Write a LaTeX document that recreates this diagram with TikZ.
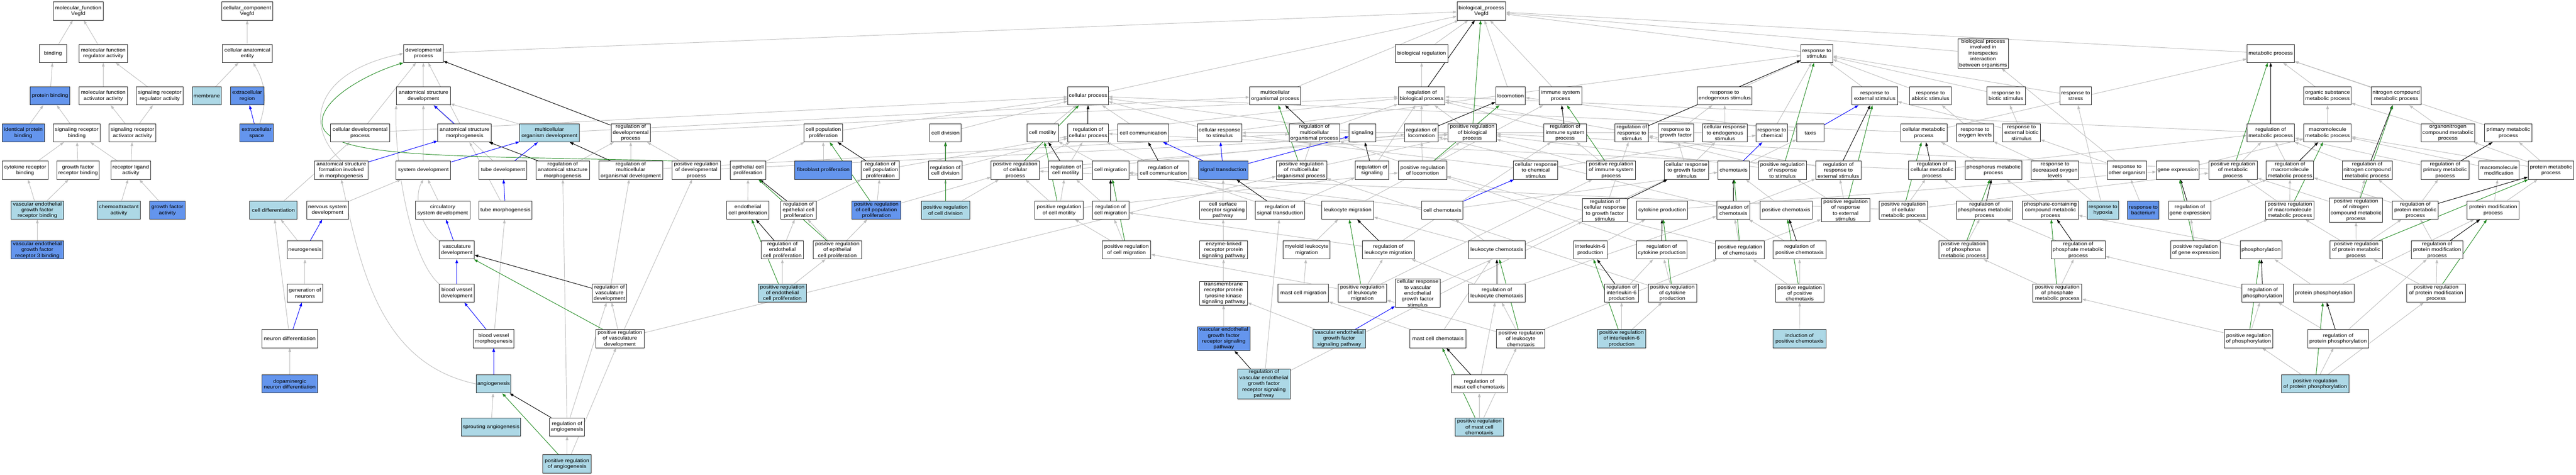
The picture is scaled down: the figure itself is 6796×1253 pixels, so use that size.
\documentclass[tikz,border=0pt]{standalone}
\usepackage{fontspec}
\setmainfont{Liberation Sans}[FakeStretch=1.12]
\usetikzlibrary{arrows.meta}
\pgfdeclarelayer{bg}
\pgfsetlayers{bg,main}
\definecolor{lbc}{HTML}{ADD8E6}
\definecolor{cbc}{HTML}{6495ED}
\definecolor{egc}{HTML}{BEBEBE}
\definecolor{fgc}{HTML}{228B22}
\tikzset{
 gobox/.style={draw=black!85, line width=1.3pt, fill=white, rectangle, align=center,
   minimum height=48pt, inner sep=2pt, font=\fontsize{13}{15.5}\selectfont},
 wbx/.style={}, lbx/.style={fill=lbc}, cbx/.style={fill=cbc},
 isa/.style={draw=egc, line width=1.3pt, -{Triangle[length=10pt,width=7pt]}},
 rg/.style={draw=black, line width=1.3pt, -{Triangle[length=10pt,width=7pt]}},
 po/.style={draw=blue, line width=1.3pt, -{Triangle[length=10pt,width=7pt]}},
 pr/.style={draw=fgc, line width=1.3pt, -{Triangle[length=10pt,width=7pt]}}
}
\newcommand\nd[6]{%
 \pgfmathsetmacro\ndx{(#2+#3)/2}%
 \pgfmathsetmacro\ndw{#3-#2}%
 \pgfmathsetmacro\ndy{{29,141,253,350.5,449,554.5,659.5,773.5,893.5,1013,1126.5,1224}[#4]}%
 \node[gobox,#5,minimum width=\ndw pt] (#1) at (\ndx,\ndy) {#6};}
\begin{document}
\begin{tikzpicture}[x=1pt,y=-1pt]
\useasboundingbox (0,0) rectangle (6796,1253);
% row 0
\nd{mfroot}{141}{272}{0}{wbx}{molecular\_function\\Vegfd}
\nd{ccroot}{585}{719}{0}{wbx}{cellular\_component\\Vegfd}
\nd{bproot}{3844}{3972}{0}{wbx}{biological\_process\\Vegfd}
% row 1
\nd{binding}{104}{176}{1}{wbx}{binding}
\nd{mfreg}{208}{337}{1}{wbx}{molecular function\\regulator activity}
\nd{cae}{587}{718}{1}{wbx}{cellular anatomical\\entity}
\nd{devp}{1065}{1169}{1}{wbx}{developmental\\process}
\nd{bioreg}{3681}{3820}{1}{wbx}{biological regulation}
\nd{rstim}{4751}{4835}{1}{wbx}{response to\\stimulus}
\nd{inter}{5165}{5299}{1}{wbx}{biological process\\involved in\\interspecies\\interaction\\between organisms}
\nd{metab}{5928}{6053}{1}{wbx}{metabolic process}
% row 2
\nd{protbind}{80}{184}{2}{cbx}{protein binding}
\nd{mfact}{208}{337}{2}{wbx}{molecular function\\activator activity}
\nd{srra}{360}{483}{2}{wbx}{signaling receptor\\regulator activity}
\nd{membrane}{507}{584}{2}{lbx}{membrane}
\nd{exreg}{608}{696}{2}{cbx}{extracellular\\region}
\nd{asdev}{1046}{1188}{2}{wbx}{anatomical structure\\development}
\nd{cellp}{2817}{2924}{2}{wbx}{cellular process}
\nd{mop}{3297}{3431}{2}{wbx}{multicellular\\organismal process}
\nd{rbp}{3689}{3812}{2}{wbx}{regulation of\\biological process}
\nd{locom}{3946}{4024}{2}{wbx}{locomotion}
\nd{isp}{4061}{4173}{2}{wbx}{immune system\\process}
\nd{rendo}{4478}{4622}{2}{wbx}{response to\\endogenous stimulus}
\nd{rext}{4886}{5006}{2}{wbx}{response to\\external stimulus}
\nd{rabio}{5038}{5148}{2}{wbx}{response to\\abiotic stimulus}
\nd{rbio}{5241}{5343}{2}{wbx}{response to\\biotic stimulus}
\nd{rstress}{5435}{5517}{2}{wbx}{response to\\stress}
\nd{osmp}{6078}{6203}{2}{wbx}{organic substance\\metabolic process}
\nd{ncmp}{6256}{6387}{2}{wbx}{nitrogen compound\\metabolic process}
% row 3
\nd{ipb}{6}{117}{3}{cbx}{identical protein\\binding}
\nd{srb}{141}{264}{3}{wbx}{signaling receptor\\binding}
\nd{sraa}{288}{411}{3}{wbx}{signaling receptor\\activator activity}
\nd{exsp}{633}{721}{3}{cbx}{extracellular\\space}
\nd{cdp}{872}{1028}{3}{wbx}{cellular developmental\\process}
\nd{asm}{1155}{1296}{3}{wbx}{anatomical structure\\morphogenesis}
\nd{mod}{1371}{1528}{3}{lbx}{multicellular\\organism development}
\nd{rdp}{1612}{1716}{3}{wbx}{regulation of\\developmental\\process}
\nd{cpp}{2121}{2223}{3}{wbx}{cell population\\proliferation}
\nd{celldiv}{2453}{2536}{3}{wbx}{cell division}
\nd{cmot}{2709}{2792}{3}{wbx}{cell motility}
\nd{rcp}{2817}{2924}{3}{wbx}{regulation of\\cellular process}
\nd{ccom}{2949}{3083}{3}{wbx}{cell communication}
\nd{crs}{3159}{3276}{3}{wbx}{cellular response\\to stimulus}
\nd{rmop}{3401}{3534}{3}{wbx}{regulation of\\multicellular\\organismal process}
\nd{signaling}{3559}{3630}{3}{wbx}{signaling}
\nd{rloc}{3706}{3794}{3}{wbx}{regulation of\\locomotion}
\nd{prbp}{3820}{3948}{3}{wbx}{positive regulation\\of biological\\process}
\nd{risp}{4073}{4185}{3}{wbx}{regulation of\\immune system\\process}
\nd{rrs}{4261}{4349}{3}{wbx}{regulation of\\response to\\stimulus}
\nd{rgf}{4374}{4468}{3}{wbx}{response to\\growth factor}
\nd{cres}{4492}{4609}{3}{wbx}{cellular response\\to endogenous\\stimulus}
\nd{rchem}{4633}{4716}{3}{wbx}{response to\\chemical}
\nd{taxis}{4740}{4812}{3}{wbx}{taxis}
\nd{cmp}{5014}{5137}{3}{wbx}{cellular metabolic\\process}
\nd{rox}{5162}{5259}{3}{wbx}{response to\\oxygen levels}
\nd{rebs}{5283}{5383}{3}{wbx}{response to\\external biotic\\stimulus}
\nd{rmp}{5928}{6053}{3}{wbx}{regulation of\\metabolic process}
\nd{mmp}{6078}{6203}{3}{wbx}{macromolecule\\metabolic process}
\nd{oncmp}{6387}{6529}{3}{wbx}{organonitrogen\\compound metabolic\\process}
\nd{pmp}{6555}{6680}{3}{wbx}{primary metabolic\\process}
% row 4
\nd{crb}{6.5}{126.5}{4}{wbx}{cytokine receptor\\binding}
\nd{gfrb}{150}{262}{4}{wbx}{growth factor\\receptor binding}
\nd{rla}{293}{397}{4}{wbx}{receptor ligand\\activity}
\nd{asf}{830}{971}{4}{wbx}{anatomical structure\\formation involved\\in morphogenesis}
\nd{sysdev}{1045}{1189}{4}{wbx}{system development}
\nd{tubedev}{1264}{1390}{4}{wbx}{tube development}
\nd{rasm}{1414}{1555}{4}{wbx}{regulation of\\anatomical structure\\morphogenesis}
\nd{rmod}{1580}{1748}{4}{wbx}{regulation of\\multicellular\\organismal development}
\nd{prdp}{1773}{1901}{4}{wbx}{positive regulation\\of developmental\\process}
\nd{epp}{1926}{2021}{4}{wbx}{epithelial cell\\proliferation}
\nd{fibp}{2097}{2247}{4}{cbx}{fibroblast proliferation}
\nd{rcpp}{2272}{2373}{4}{wbx}{regulation of\\cell population\\proliferation}
\nd{rcdiv}{2450}{2538}{4}{wbx}{regulation of\\cell division}
\nd{prcp}{2615}{2742}{4}{wbx}{positive regulation\\of cellular\\process}
\nd{rcm}{2767}{2856}{4}{wbx}{regulation of\\cell motility}
\nd{cmig}{2882}{2978}{4}{wbx}{cell migration}
\nd{rcc}{3002}{3136}{4}{wbx}{regulation of\\cell communication}
\nd{sigtr}{3162}{3292}{4}{cbx}{signal transduction}
\nd{prmop}{3367}{3500}{4}{wbx}{positive regulation\\of multicellular\\organismal process}
\nd{rsig}{3575}{3664}{4}{wbx}{regulation of\\signaling}
\nd{prloc}{3689}{3817}{4}{wbx}{positive regulation\\of locomotion}
\nd{crcs}{3993}{4110}{4}{wbx}{cellular response\\to chemical\\stimulus}
\nd{prisp}{4186}{4315}{4}{wbx}{positive regulation\\of immune system\\process}
\nd{crgf}{4391}{4508}{4}{wbx}{cellular response\\to growth factor\\stimulus}
\nd{chemotaxis}{4532}{4615}{4}{wbx}{chemotaxis}
\nd{prrs}{4639}{4766}{4}{wbx}{positive regulation\\of response\\to stimulus}
\nd{rres}{4790}{4910}{4}{wbx}{regulation of\\response to\\external stimulus}
\nd{rcmp}{5035}{5159}{4}{wbx}{regulation of\\cellular metabolic\\process}
\nd{phmp}{5184}{5334}{4}{wbx}{phosphorus metabolic\\process}
\nd{rdox}{5359}{5484}{4}{wbx}{response to\\decreased oxygen\\levels}
\nd{roo}{5560}{5663}{4}{wbx}{response to\\other organism}
\nd{geneexp}{5689}{5801}{4}{wbx}{gene expression}
\nd{prmp}{5827}{5955}{4}{wbx}{positive regulation\\of metabolic\\process}
\nd{rmmp}{5979}{6104}{4}{wbx}{regulation of\\macromolecule\\metabolic process}
\nd{rncmp}{6179}{6311}{4}{wbx}{regulation of\\nitrogen compound\\metabolic process}
\nd{rpmp}{6387}{6514}{4}{wbx}{regulation of\\primary metabolic\\process}
\nd{macmod}{6539}{6646}{4}{wbx}{macromolecule\\modification}
\nd{protmp}{6670}{6790}{4}{wbx}{protein metabolic\\process}
% row 5
\nd{vegfrb}{29}{168}{5}{lbx}{vascular endothelial\\growth factor\\receptor binding}
\nd{chemoact}{256}{371}{5}{lbx}{chemoattractant\\activity}
\nd{gfa}{395}{488}{5}{cbx}{growth factor\\activity}
\nd{celldiff}{659}{784}{5}{lbx}{cell differentiation}
\nd{nsd}{809}{919}{5}{wbx}{nervous system\\development}
\nd{csd}{1096}{1240}{5}{wbx}{circulatory\\system development}
\nd{tubemorph}{1264}{1403}{5}{wbx}{tube morphogenesis}
\nd{ecp}{1917}{2029}{5}{wbx}{endothelial\\cell proliferation}
\nd{repp}{2060}{2153}{5}{wbx}{regulation of\\epithelial cell\\proliferation}
\nd{prcpp}{2248}{2376}{5}{cbx}{positive regulation\\of cell population\\proliferation}
\nd{prcdiv}{2431}{2558}{5}{lbx}{positive regulation\\of cell division}
\nd{prcm}{2730}{2858}{5}{wbx}{positive regulation\\of cell motility}
\nd{rcmig}{2882}{2978}{5}{wbx}{regulation of\\cell migration}
\nd{csrsp}{3165}{3288}{5}{wbx}{cell surface\\receptor signaling\\pathway}
\nd{rst}{3312}{3442}{5}{wbx}{regulation of\\signal transduction}
\nd{lmig}{3487}{3624}{5}{wbx}{leukocyte migration}
\nd{cchem}{3751}{3860}{5}{wbx}{cell chemotaxis}
\nd{rcrgf}{4175}{4293}{5}{wbx}{regulation of\\cellular response\\to growth factor\\stimulus}
\nd{cytp}{4318}{4452}{5}{wbx}{cytokine production}
\nd{rchemo}{4529}{4617}{5}{wbx}{regulation of\\chemotaxis}
\nd{poschem}{4643}{4781}{5}{wbx}{positive chemotaxis}
\nd{prres}{4805}{4933}{5}{wbx}{positive regulation\\of response\\to external\\stimulus}
\nd{prcmp}{4958}{5085}{5}{wbx}{positive regulation\\of cellular\\metabolic process}
\nd{rphmp}{5161}{5310}{5}{wbx}{regulation of\\phosphorus metabolic\\process}
\nd{pccmp}{5336}{5483}{5}{wbx}{phosphate-containing\\compound metabolic\\process}
\nd{rhyp}{5507}{5589}{5}{lbx}{response to\\hypoxia}
\nd{rbact}{5613}{5696}{5}{cbx}{response to\\bacterium}
\nd{rge}{5721}{5833}{5}{wbx}{regulation of\\gene expression}
\nd{prmmp}{5977}{6105}{5}{wbx}{positive regulation\\of macromolecule\\metabolic process}
\nd{prncmp}{6145}{6286}{5}{wbx}{positive regulation\\of nitrogen\\compound metabolic\\process}
\nd{rprmp}{6312}{6432}{5}{wbx}{regulation of\\protein metabolic\\process}
\nd{pmodp}{6509}{6646}{5}{wbx}{protein modification\\process}
% row 6
\nd{vegfr3b}{29}{168}{6}{cbx}{vascular endothelial\\growth factor\\receptor 3 binding}
\nd{neurogen}{758}{851}{6}{wbx}{neurogenesis}
\nd{vascdev}{1159}{1251}{6}{wbx}{vasculature\\development}
\nd{recp}{2008}{2120}{6}{wbx}{regulation of\\endothelial\\cell proliferation}
\nd{prepp}{2145}{2273}{6}{wbx}{positive regulation\\of epithelial\\cell proliferation}
\nd{prcmig}{2908}{3036}{6}{wbx}{positive regulation\\of cell migration}
\nd{elrpsp}{3165}{3291}{6}{wbx}{enzyme-linked\\receptor protein\\signaling pathway}
\nd{mlmig}{3385}{3509}{6}{wbx}{myeloid leukocyte\\migration}
\nd{rlmig}{3594}{3731}{6}{wbx}{regulation of\\leukocyte migration}
\nd{lchem}{3874}{4024}{6}{wbx}{leukocyte chemotaxis}
\nd{il6}{4151}{4240}{6}{wbx}{interleukin-6\\production}
\nd{rcytp}{4317}{4451}{6}{wbx}{regulation of\\cytokine production}
\nd{prchemo}{4526}{4655}{6}{wbx}{positive regulation\\of chemotaxis}
\nd{rposchem}{4678}{4817}{6}{wbx}{regulation of\\positive chemotaxis}
\nd{prphmp}{5115}{5244}{6}{wbx}{positive regulation\\of phosphorus\\metabolic process}
\nd{rphosmp}{5411}{5554}{6}{wbx}{regulation of\\phosphate metabolic\\process}
\nd{prge}{5727}{5857}{6}{wbx}{positive regulation\\of gene expression}
\nd{phos}{5910}{6020}{6}{wbx}{phosphorylation}
\nd{prprmp}{6147}{6285}{6}{wbx}{positive regulation\\of protein metabolic\\process}
\nd{rpmodp}{6361}{6498}{6}{wbx}{regulation of\\protein modification\\process}
% row 7
\nd{genneur}{758}{851}{7}{wbx}{generation of\\neurons}
\nd{bvd}{1159}{1251}{7}{wbx}{blood vessel\\development}
\nd{rvd}{1563}{1653}{7}{wbx}{regulation of\\vasculature\\development}
\nd{precp}{2000}{2128}{7}{lbx}{positive regulation\\of endothelial\\cell proliferation}
\nd{trptk}{3165}{3291}{7}{wbx}{transmembrane\\receptor protein\\tyrosine kinase\\signaling pathway}
\nd{mcmig}{3372}{3505}{7}{wbx}{mast cell migration}
\nd{prlmig}{3530}{3658}{7}{wbx}{positive regulation\\of leukocyte\\migration}
\nd{crvegf}{3681}{3799}{7}{wbx}{cellular response\\to vascular\\endothelial\\growth factor\\stimulus}
\nd{rlchem}{3874}{4024}{7}{wbx}{regulation of\\leukocyte chemotaxis}
\nd{ril6}{4233}{4323}{7}{wbx}{regulation of\\interleukin-6\\production}
\nd{prcytp}{4348}{4476}{7}{wbx}{positive regulation\\of cytokine\\production}
\nd{prposchem}{4684}{4812}{7}{wbx}{positive regulation\\of positive\\chemotaxis}
\nd{prphosmp}{5363}{5492}{7}{wbx}{positive regulation\\of phosphate\\metabolic process}
\nd{rphos}{5914}{6025}{7}{wbx}{regulation of\\phosphorylation}
\nd{pphos}{6050}{6211}{7}{wbx}{protein phosphorylation}
\nd{prpmodp}{6350}{6504}{7}{wbx}{positive regulation\\of protein modification\\process}
% row 8
\nd{neurdiff}{691}{838}{8}{wbx}{neuron differentiation}
\nd{bvm}{1249}{1356}{8}{wbx}{blood vessel\\morphogenesis}
\nd{prvd}{1572}{1699}{8}{wbx}{positive regulation\\of vasculature\\development}
\nd{vegfrsp}{3159}{3298}{8}{cbx}{vascular endothelial\\growth factor\\receptor signaling\\pathway}
\nd{vegfsp}{3464}{3602}{8}{lbx}{vascular endothelial\\growth factor\\signaling pathway}
\nd{mcchem}{3720}{3867}{8}{wbx}{mast cell chemotaxis}
\nd{prlchem}{3948}{4076}{8}{wbx}{positive regulation\\of leukocyte\\chemotaxis}
\nd{pril6}{4214}{4342}{8}{lbx}{positive regulation\\of interleukin-6\\production}
\nd{indposchem}{4678}{4817}{8}{lbx}{induction of\\positive chemotaxis}
\nd{prphos}{5868}{5996}{8}{wbx}{positive regulation\\of phosphorylation}
\nd{rpphos}{6088}{6249}{8}{wbx}{regulation of\\protein phosphorylation}
% row 9
\nd{dopa}{691}{838}{9}{cbx}{dopaminergic\\neuron differentiation}
\nd{angio}{1257}{1348}{9}{lbx}{angiogenesis}
\nd{rvegfrsp}{3265}{3404}{9}{lbx}{regulation of\\vascular endothelial\\growth factor\\receptor signaling\\pathway}
\nd{rmcchem}{3829}{3976}{9}{wbx}{regulation of\\mast cell chemotaxis}
\nd{prpphos}{6019}{6197}{9}{lbx}{positive regulation\\of protein phosphorylation}
% row 10
\nd{sprout}{1217}{1374}{10}{lbx}{sprouting angiogenesis}
\nd{rangio}{1450}{1542}{10}{wbx}{regulation of\\angiogenesis}
\nd{prmcchem}{3839}{3967}{10}{lbx}{positive regulation\\of mast cell\\chemotaxis}
% row 11
\nd{prangio}{1432}{1560}{11}{lbx}{positive regulation\\of angiogenesis}

\begin{pgfonlayer}{bg}
\fill[white] (0,0) rectangle (6796,1253);
\foreach \a/\b in {binding/mfroot, mfreg/mfroot, protbind/binding, mfact/mfreg, srra/mfreg, ipb/protbind, srb/protbind, sraa/mfact, sraa/srra, crb/srb, gfrb/srb, rla/srb, rla/sraa, vegfrb/crb, vegfrb/gfrb, chemoact/rla, gfa/rla, vegfr3b/vegfrb,
 cae/ccroot, membrane/cae,
 devp/bproot, cellp/bproot, mop/bproot, bioreg/bproot, locom/bproot, isp/bproot, rstim/bproot, inter/bproot, metab/bproot,
 asdev/devp, cdp/devp, cdp/cellp, asm/devp, mod/asdev, mod/mop, tubedev/asdev, sysdev/asdev, rasm/rdp, rmod/rdp, rmod/rmop, prdp/rdp, prdp/prbp, rdp/rbp,
 cpp/cellp, epp/cpp, fibp/cpp, rcpp/rcp, prcpp/rcpp, prcpp/prcp, ecp/epp, repp/rcpp, recp/repp, prepp/repp, prepp/prcpp, precp/recp, precp/prepp,
 celldiff/cdp, neurdiff/celldiff, genneur/neurogen, neurogen/celldiff, dopa/neurdiff, nsd/sysdev, csd/sysdev, bvm/tubemorph, tubemorph/asm, sprout/angio, rangio/rasm, rangio/rvd, prangio/rangio, prangio/prvd, rvd/rmod, prvd/rvd, prvd/prdp, prvd/prmop,
 celldiv/cellp, rcdiv/rcp, prcdiv/rcdiv, prcdiv/prcp, cmot/cellp, rcm/rcp, rcm/rloc, prcm/rcm, prcm/prcp, prcm/prloc, cmig/cmot, rcmig/rcm, prcmig/rcmig, prcmig/prcm, ccom/cellp, rcc/rcp, crs/cellp, crs/rstim, rcp/rbp, prcp/rcp, prcp/prbp, signaling/cellp,
 csrsp/sigtr, elrpsp/csrsp, trptk/elrpsp, vegfrsp/trptk, vegfsp/trptk, rst/rcc, rst/rsig, rvegfrsp/rst, rvegfrsp/rcrgf,
 mlmig/lmig, mcmig/mlmig, prlmig/rlmig, prlmig/prcmig, prlmig/prisp, rlmig/rcmig, rlmig/risp, lmig/cmig, lmig/isp, lchem/lmig, lchem/cchem, rlchem/rlmig, rlchem/rchemo, prlchem/rlchem, prlchem/prlmig, prlchem/prchemo, mcchem/lchem, mcchem/mcmig, rmcchem/rlchem, prmcchem/rmcchem, prmcchem/prlchem, cchem/cmig, cchem/chemotaxis,
 crcs/rchem, crcs/crs, crvegf/crgf, crgf/rgf, crgf/cres, cres/rendo, cres/crs, rgf/rendo, rendo/rstim, rchem/rstim, rcrgf/rrs,
 il6/cytp, ril6/rcytp, pril6/ril6, pril6/prcytp, rcytp/rmop, prcytp/rcytp, prcytp/prmop, cytp/geneexp,
 chemotaxis/taxis, taxis/locom, rchemo/rres, rchemo/rloc, prchemo/rchemo, prchemo/prres, prchemo/prloc, poschem/chemotaxis, rposchem/rchemo, prposchem/rposchem, prposchem/prchemo, indposchem/prposchem,
 rres/rrs, prres/rres, prres/prrs, rrs/rbp, prrs/rrs, prrs/prbp,
 rext/rstim, rabio/rstim, rbio/rstim, rstress/rstim, rox/rabio, rdox/rox, rhyp/rdox, rhyp/rstress, rebs/rbio, rebs/rext, roo/rebs, roo/inter, rbact/roo,
 risp/rbp, prisp/risp, prisp/prbp, rloc/rbp, prloc/rloc, prloc/prbp, rmop/rbp, prmop/rmop, prmop/prbp, rsig/rbp, rbp/bioreg, prbp/rbp,
 cmp/cellp, cmp/metab, rcmp/rcp, rcmp/rmp, prcmp/rcmp, prcmp/prcp, prcmp/prmp, phmp/cmp, rphmp/rcmp, prphmp/rphmp, prphmp/prcmp, pccmp/phmp, rphosmp/rphmp, prphosmp/rphosmp, prphosmp/prphmp,
 rmp/rbp, osmp/metab, ncmp/metab, pmp/metab, mmp/osmp, oncmp/ncmp, oncmp/osmp, geneexp/mmp, prmp/rmp, prmp/prbp, rmmp/rmp, rncmp/rmp, rpmp/rmp, macmod/mmp, protmp/mmp, protmp/oncmp, protmp/pmp, rge/rmmp, prmmp/rmmp, prmmp/prmp, prncmp/rncmp, prncmp/prmp, rprmp/rncmp, rprmp/rmmp, rprmp/rpmp, pmodp/macmod, pmodp/protmp, prge/rge, prge/prmmp, phos/pccmp, prprmp/rprmp, prprmp/prncmp, prprmp/prmmp, rpmodp/rprmp, rphos/rphosmp, pphos/phos, pphos/pmodp, prpmodp/rpmodp, prpmodp/prprmp, prphos/rphos, prphos/prphosmp, rpphos/rphos, rpphos/rpmodp, prpphos/prphos, prpphos/rpphos, prpphos/prpmodp}
 \draw[isa] (\a) -- (\b);
% curved grey connectors
\draw[isa] (exsp) to[bend right=25] (cae);
\draw[isa] (asf.north) .. controls (800,330) and (830,190) .. (devp.west);
\draw[isa] (angio.west) .. controls (1000,960) and (950,700) .. (asf.south);
\draw[isa] (bvd.north west) .. controls (1080,680) and (1040,420) .. (asdev.south west);
\draw[isa] (vascdev.north west) .. controls (1110,600) and (1090,520) .. (sysdev.south);
\foreach \a/\b in {rbp/bproot, rdp/devp, rasm/asm, rmod/mod, rcpp/cpp, repp/epp, recp/ecp, rvd/vascdev, rangio/angio, rcdiv/celldiv, rcm/cmot, rcmig/cmig, rcc/ccom, rcp/cellp, rst/sigtr, rvegfrsp/vegfrsp, rlmig/lmig, rlchem/lchem, rmcchem/mcchem, rcrgf/crgf, ril6/il6, rcytp/cytp, rchemo/chemotaxis, rposchem/poschem, rres/rext, rrs/rstim, risp/isp, rloc/locom, rmop/mop, rsig/signaling, rcmp/cmp, rphmp/phmp, rphosmp/pccmp, rmp/metab, rmmp/mmp, rncmp/ncmp, rpmp/pmp, rge/geneexp, rprmp/protmp, rpmodp/pmodp, rphos/phos, rpphos/pphos}
 \draw[rg] (\a) -- (\b);
\foreach \a/\b in {exsp/exreg, asf/asm, asm/asdev, sysdev/mod, tubedev/mod, neurdiff/genneur, neurogen/nsd, vascdev/csd, bvd/vascdev, bvm/bvd, angio/bvm, tubemorph/tubedev, sigtr/ccom, sigtr/crs, sigtr/signaling, cchem/crcs, vegfsp/crvegf, chemotaxis/rchem, taxis/rext}
 \draw[po] (\a) -- (\b);
\foreach \a/\b in {prbp/bproot, prcpp/cpp, prepp/epp, precp/ecp, prvd/vascdev, prangio/angio, prcdiv/celldiv, prcm/cmot, prcmig/cmig, prcp/cellp, prlmig/lmig, prlchem/lchem, prmcchem/mcchem, pril6/il6, prcytp/cytp, prchemo/chemotaxis, prposchem/poschem, prres/rext, prrs/rstim, prisp/isp, prloc/locom, prmop/mop, prcmp/cmp, prphmp/phmp, prphosmp/pccmp, prmp/metab, prmmp/mmp, prncmp/ncmp, prge/geneexp, prprmp/protmp, prpmodp/pmodp, prphos/phos, prpphos/pphos}
 \draw[pr] (\a) -- (\b);
\draw[pr] (prdp.north west) .. controls (1200,410) and (870,420) .. (850,330) .. controls (840,260) and (980,190) .. (devp.south west);
\end{pgfonlayer}
\end{tikzpicture}
\end{document}
